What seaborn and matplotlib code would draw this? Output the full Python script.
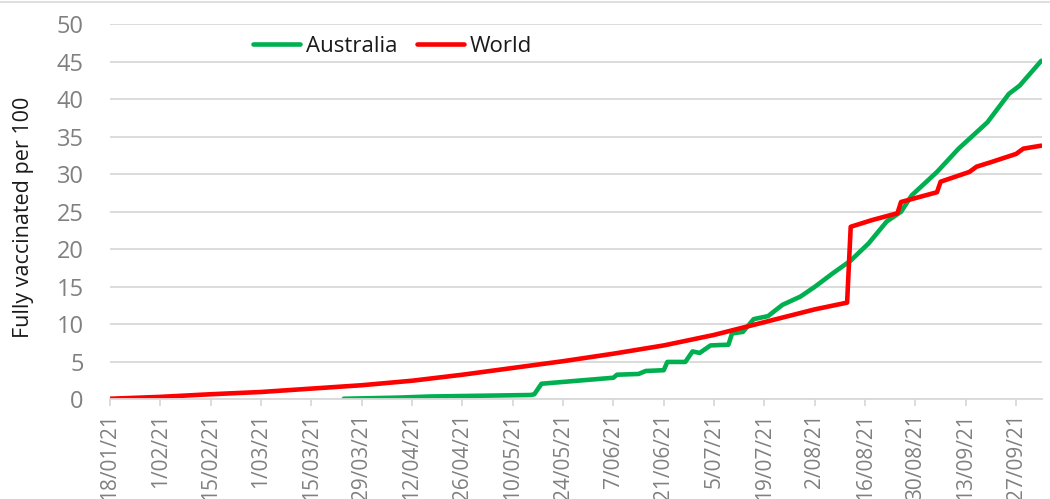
import matplotlib
matplotlib.use("Agg")
import matplotlib.pyplot as plt
from matplotlib.lines import Line2D
import seaborn as sns
import pandas as pd

# ---- data ----
world_dates = ["2021-01-18", "2021-02-01", "2021-02-15", "2021-03-01", "2021-03-15",
               "2021-03-29", "2021-04-12", "2021-04-26", "2021-05-10", "2021-05-24",
               "2021-06-07", "2021-06-21", "2021-07-05", "2021-07-19", "2021-08-02",
               "2021-08-11", "2021-08-12", "2021-08-18", "2021-08-25", "2021-08-26",
               "2021-09-05", "2021-09-06", "2021-09-14", "2021-09-16", "2021-09-20",
               "2021-09-27", "2021-09-29", "2021-10-04"]
world_values = [0.1, 0.35, 0.7, 1.0, 1.45,
                1.9, 2.5, 3.3, 4.2, 5.1,
                6.1, 7.2, 8.6, 10.3, 12.0,
                12.9, 23.0, 23.9, 24.8, 26.3,
                27.6, 29.0, 30.3, 31.0, 31.6,
                32.7, 33.4, 33.8]

aus_dates = ["2021-03-24", "2021-04-08", "2021-04-17", "2021-05-01", "2021-05-15",
             "2021-05-16", "2021-05-18", "2021-06-07", "2021-06-08", "2021-06-14",
             "2021-06-16", "2021-06-21", "2021-06-22", "2021-06-27", "2021-06-29",
             "2021-07-01", "2021-07-04", "2021-07-09", "2021-07-10", "2021-07-13",
             "2021-07-16", "2021-07-20", "2021-07-24", "2021-07-29", "2021-08-02",
             "2021-08-07", "2021-08-12", "2021-08-17", "2021-08-22", "2021-08-26",
             "2021-08-29", "2021-09-05", "2021-09-11", "2021-09-19", "2021-09-25",
             "2021-09-28", "2021-10-04"]
aus_values = [0.1, 0.25, 0.4, 0.5, 0.6,
              0.7, 2.1, 2.9, 3.3, 3.4,
              3.8, 3.9, 5.0, 5.0, 6.4,
              6.2, 7.2, 7.3, 8.8, 9.0,
              10.7, 11.1, 12.6, 13.7, 15.0,
              16.8, 18.5, 20.8, 23.7, 25.0,
              27.2, 30.3, 33.4, 36.9, 40.7,
              41.8, 45.1]

series_names = ["Australia", "World"]
series_colors = ["#00b050", "#ff0000"]

tick_dates = ["2021-01-18", "2021-02-01", "2021-02-15", "2021-03-01", "2021-03-15",
              "2021-03-29", "2021-04-12", "2021-04-26", "2021-05-10", "2021-05-24",
              "2021-06-07", "2021-06-21", "2021-07-05", "2021-07-19", "2021-08-02",
              "2021-08-16", "2021-08-30", "2021-09-13", "2021-09-27"]
tick_labels = ["18/01/21", "1/02/21", "15/02/21", "1/03/21", "15/03/21",
               "29/03/21", "12/04/21", "26/04/21", "10/05/21", "24/05/21",
               "7/06/21", "21/06/21", "5/07/21", "19/07/21", "2/08/21",
               "16/08/21", "30/08/21", "13/09/21", "27/09/21"]
y_ticks = [0, 5, 10, 15, 20, 25, 30, 35, 40, 45, 50]
y_label = "Fully vaccinated per 100"

# ---- build table ----
df = pd.concat([
    pd.DataFrame({"date": pd.to_datetime(aus_dates), "value": aus_values, "series": series_names[0]}),
    pd.DataFrame({"date": pd.to_datetime(world_dates), "value": world_values, "series": series_names[1]}),
], ignore_index=True)

sns.set_style("white")
plt.rcParams["font.family"] = ["Open Sans", "DejaVu Sans"]

fig = plt.figure(figsize=(10.5, 4.99), dpi=100)
ax = fig.add_axes([0.1048, 0.1994, 0.8876, 0.7525])

sns.lineplot(data=df, x="date", y="value", hue="series",
             palette=dict(zip(series_names, series_colors)),
             hue_order=series_names, linewidth=3.3, ax=ax, sort=True,
             estimator=None)

ax.set_ylim(0, 50)
ax.set_yticks(y_ticks)
ax.set_xlim(pd.Timestamp("2021-01-18"), pd.Timestamp("2021-10-04 05:00"))
ax.set_xticks(pd.to_datetime(tick_dates))
ax.set_xticklabels(tick_labels, rotation=90)

ax.grid(axis="y", color="#d9d9d9", linewidth=1.3)
ax.grid(axis="x", visible=False)
ax.set_axisbelow(True)
for s in ["top", "right", "left"]:
    ax.spines[s].set_visible(False)
ax.spines["bottom"].set_color("#d9d9d9")
ax.spines["bottom"].set_linewidth(1.3)

ax.tick_params(axis="y", length=0, pad=19, labelsize=17, labelcolor="#808080")
ax.tick_params(axis="x", length=5, width=1.3, color="#d9d9d9", pad=5,
               labelsize=15, labelcolor="#808080", direction="out", bottom=True)

ax.set_xlabel("")
ax.set_ylabel(y_label, fontsize=15.5, color="#1a1a1a", labelpad=16)
ax.yaxis.label.set_y(0.485)

leg = ax.legend(loc="center", bbox_to_anchor=(0.303, 0.94), ncol=2, frameon=False,
                fontsize=16, handlelength=2.1, handletextpad=0.25, columnspacing=0.9,
                borderaxespad=0)
for t in leg.get_texts():
    t.set_color("#1a1a1a")

fig.add_artist(Line2D([0, 1], [0.995, 0.995], color="#d9d9d9", linewidth=1.2,
                      transform=fig.transFigure))

fig.savefig("out.png", dpi=100)
